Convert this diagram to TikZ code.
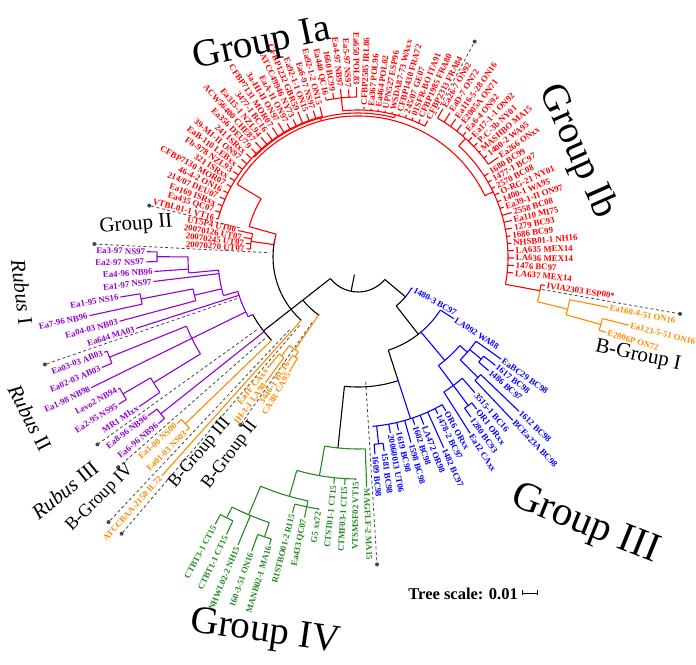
\documentclass[tikz,border=0pt]{standalone}
\usepackage{fontspec}
\setmainfont{Liberation Serif}
\definecolor{cR}{RGB}{255,0,0}
\definecolor{cB}{RGB}{0,0,255}
\definecolor{cP}{RGB}{148,0,211}
\definecolor{cO}{RGB}{255,140,0}
\definecolor{cG}{RGB}{34,139,34}
\definecolor{cD}{RGB}{70,70,70}
\newcommand\RK[4]{\pgfmathsetmacro\tK{-16.9+2.753*(#1)}\draw[br,#4] (\tK:#2pt) -- (\tK:#3pt);}
\newcommand\RD[4]{\draw[br,#4] (#1:#2pt) -- (#1:#3pt);}
\newcommand\AK[4]{\pgfmathsetmacro\tKa{-16.9+2.753*(#1)}\pgfmathsetmacro\tKb{-16.9+2.753*(#2)}\draw[br,#4] (\tKa:#3pt) arc[start angle=\tKa,end angle=\tKb,radius=#3pt];}
\newcommand\AD[4]{\draw[br,#4] (#1:#3pt) arc[start angle=#1,end angle=#2,radius=#3pt];}
\newcommand\LF[5]{%
  \pgfmathsetmacro\tK{-16.9+2.753*(#1)}%
  \draw[br,#4] (\tK:#2pt) -- (\tK:#3pt);%
  \pgfmathsetmacro\rL{#3+1}%
  \ifdim\tK pt>270pt \pgfmathsetmacro\tK{\tK-360}\fi
  \ifdim\tK pt>90pt
    \pgfmathsetmacro\tR{\tK-180}%
    \node[lab,text=#4,anchor=east,rotate=\tR] (L#1) at (\tK:\rL pt) {#5};%
  \else
    \node[lab,text=#4,anchor=west,rotate=\tK] (L#1) at (\tK:\rL pt) {#5};%
  \fi}
\newcommand\SP[3]{\pgfmathsetmacro\tK{-16.9+2.753*(#1)}\draw[sepline] (\tK:#2pt) -- (\tK:#3pt);\fill[cD] (\tK:#3pt) circle[radius=2pt];}
\begin{document}
\begin{tikzpicture}[x=1pt,y=1pt,
  br/.style={line width=1.1pt},
  lab/.style={font=\fontsize{8.8}{9}\selectfont\bfseries, inner sep=0.8pt},
  sepline/.style={draw=cD, line width=0.8pt, dash pattern=on 3pt off 2.5pt},
  grp/.style={font=\fontsize{39}{40}\selectfont, inner sep=0pt},
  grpm/.style={font=\fontsize{21}{22}\selectfont, inner sep=0pt},
  grps/.style={font=\fontsize{18}{19}\selectfont, inner sep=0pt}]
\useasboundingbox (0,0) rectangle (696,664);
\fill[white] (0,0) rectangle (696,664);
\begin{scope}[shift={(358,407)}]
% separators
\SP{2.5}{187}{327}
\SP{28.5}{162}{245}
\SP{66.5}{122}{215}
\SP{70.5}{91}{264}
\SP{78.4}{128}{331}
\SP{84.5}{125}{321}
\SP{86.5}{124}{319}
\SP{88.5}{100}{364}
\SP{89.5}{90}{364}
\SP{91.5}{80}{205}
\SP{105.5}{125}{308}
% backbone
\RD{258.6}{18}{35}{black}
\AD{218}{320}{35}{black}
\RD{218}{35}{120}{black}
\AD{218}{236.4}{70}{black}
\AD{168}{228.12}{85}{black}
\AD{208.6}{224}{120}{black}
% orange B-Group II / III
\RD{235.8}{70}{112}{cO}
\AK{90.5}{92.5}{112}{cO}
\RK{90.5}{112}{125}{cO}
\AK{90}{91}{125}{cO}
\LF{90}{125}{143}{cO}{EaJF CAxx}
\LF{91}{125}{156}{cO}{IH-3-1 LA98}
\RK{92.5}{112}{118}{cO}
\AK{92}{93}{118}{cO}
\LF{92}{118}{125}{cO}{3446-1 BC16}
\LF{93}{118}{134}{cO}{CA3R CA95}
\LF{89}{85}{294}{cO}{ATCCBAA-2158 IL72}
% B-Group IV
\RK{87.5}{120}{240}{cO}
\AK{87}{88}{240}{cO}
\LF{87}{240}{246}{cO}{Ea1-00 NS00}
\LF{88}{240}{244}{cO}{Ea01-03 NS03}
% Rubus III
\RK{85.5}{120}{252}{cP}
\AK{85}{86}{252}{cP}
\LF{85}{252}{263}{cP}{Ea8-96 NB96}
\LF{86}{252}{260}{cP}{Ea6-96 NB96}
% Rubus I / II
\RD{208.6}{120}{125}{cP}
\AD{196}{208.6}{125}{cP}
\RD{196}{125}{140}{cP}
\AD{185.4}{196}{140}{cP}
\RD{185.4}{140}{170}{cP}
\AD{179.9}{185.4}{170}{cP}
\RK{71.5}{170}{201}{cP}
\AK{71}{72}{201}{cP}
\LF{71}{201}{211}{cP}{Ea3-97 NS97}
\LF{72}{201}{212}{cP}{Ea2-97 NS97}
\LF{73}{170}{204}{cP}{Ea4-96 NB96}
\LF{74}{140}{206}{cP}{Ea1-97 NS97}
\RK{76.3}{140}{168}{cP}
\AK{75.5}{77}{168}{cP}
\RK{75.5}{168}{221}{cP}
\AK{75}{76}{221}{cP}
\LF{75}{221}{241}{cP}{Ea1-95 NS16}
\LF{76}{221}{275}{cP}{Ea7-96 NB96}
\LF{77}{168}{247}{cP}{Ea04-03 NB03}
\LF{78}{125}{233}{cP}{Ea644 MA03}
\RK{81}{125}{185}{cP}
\AK{79.5}{83}{185}{cP}
\RK{79.5}{185}{268}{cP}
\AK{79}{80}{268}{cP}
\LF{79}{268}{271}{cP}{Ea03-03 AB03}
\LF{80}{268}{279}{cP}{Ea02-03 AB03}
\LF{81}{185}{297}{cP}{Ea1-98 NB98}
\RK{83}{185}{240}{cP}
\AK{82.5}{84}{240}{cP}
\RK{82.5}{240}{272}{cP}
\AK{82}{83}{272}{cP}
\LF{82}{272}{274}{cP}{Levo2 NB94}
\LF{83}{272}{281}{cP}{Ea2-95 NS95}
\LF{84}{240}{265}{cP}{MR1 MIxx}
% red clade
\AD{164.4}{171.68}{85}{cR}
\RK{68.5}{85}{108}{cR}
\AK{67}{70}{108}{cR}
\LF{67}{108}{123}{cR}{UT5P4 UT00}
\LF{68}{108}{116}{cR}{20070126 UT07}
\LF{69}{108}{113}{cR}{20070245 UT07}
\LF{70}{108}{112}{cR}{20070270 UT07}
\RD{164.4}{85}{113}{cR}
\AD{149}{164.4}{113}{cR}
\RD{149}{113}{141}{cR}
\AD{25.77}{149}{141}{cR}
\RK{44.3}{141}{144}{cR}
\AK{33.5}{55.5}{144}{cR}
\RK{33.5}{144}{147}{cR}
\AK{29}{41}{147}{cR}
\RK{41}{147}{160}{cR}
\AK{39}{43}{160}{cR}
\RK{55.5}{144}{145}{cR}
\AK{44}{66}{145}{cR}
\LF{29}{147}{153}{cR}{CFBP2313 FRA84}
\LF{30}{147}{151}{cR}{CFBP1985 FRA80}
\LF{31}{147}{150}{cR}{01SFR-BO ITA91}
\LF{32}{147}{150}{cR}{245/07 GE07}
\LF{33}{147}{149}{cR}{CFBP1430 FRA72}
\LF{34}{147}{149}{cR}{WSDA87-73 WAxx}
\LF{35}{147}{149}{cR}{UPN527 ESP96}
\LF{36}{147}{149}{cR}{Ea464 POL02}
\LF{37}{147}{149}{cR}{Ea367 POL96}
\LF{38}{147}{150}{cR}{CFBP2585 IRL86}
\LF{39}{160}{170}{cR}{Ea650 POL83}
\LF{40}{160}{168}{cR}{Ea5-97 NS97}
\LF{41}{160}{169}{cR}{Ea4-97 NB97}
\LF{42}{160}{166}{cR}{1660 BC99}
\LF{43}{160}{163}{cR}{Ea440 QC16}
\LF{44}{145}{155}{cR}{Ea92-1-2 ON15}
\LF{45}{145}{153}{cR}{Ea6-97 NS97}
\LF{46}{145}{152}{cR}{Ea92-1-1 ON15}
\LF{47}{145}{157}{cR}{CFBP1232 GBR59}
\LF{48}{145}{152}{cR}{ATCC49946 NY73}
\LF{49}{145}{151}{cR}{EaA-11 ON97}
\LF{50}{145}{156}{cR}{3a-HI-II ON97}
\LF{51}{145}{155}{cR}{CFBP7131 MOR07}
\LF{52}{145}{154}{cR}{3477-1 BC16}
\LF{53}{145}{154}{cR}{Ea315-1 NZL94}
\LF{54}{145}{154}{cR}{ACW56400 CHE87}
\LF{55}{145}{152}{cR}{Ea356 DEU79}
\LF{56}{145}{152}{cR}{241 ISRxx}
\LF{57}{145}{152}{cR}{39-M1-II ON97}
\LF{58}{145}{151}{cR}{EaB-110 LEBxx}
\LF{59}{145}{151}{cR}{Fb-978 NZL93}
\LF{60}{145}{151}{cR}{321 ISRxx}
\LF{61}{145}{150}{cR}{CFBP7130 MOR07}
\LF{62}{145}{150}{cR}{46-4-2 ON16}
\LF{63}{145}{151}{cR}{214/07 DEU07}
\LF{64}{145}{150}{cR}{Ea169 ISRxx}
\LF{65}{145}{150}{cR}{Ea435 QC07}
\LF{66}{145}{147}{cR}{VTBL01-1 VT16}
% Group Ib
\RK{15.5}{141}{150}{cR}
\AD{-10.5}{47.8}{150}{cR}
\RK{23.5}{150}{160}{cR}
\AK{19}{28}{160}{cR}
\LF{4}{150}{156}{cR}{LA637 MEX14}
\LF{5}{150}{156}{cR}{1476 BC97}
\LF{6}{150}{156}{cR}{LA636 MEX14}
\LF{7}{150}{156}{cR}{LA635 MEX14}
\LF{8}{150}{154}{cR}{NHSB01-1 NH16}
\LF{9}{150}{154}{cR}{1686 BC99}
\LF{10}{150}{157}{cR}{1279 BC93}
\LF{11}{150}{158}{cR}{Ea110 MI75}
\LF{12}{150}{160}{cR}{2558 BC08}
\LF{13}{150}{154}{cR}{Ea39-1-II ON97}
\LF{14}{150}{154}{cR}{1400-1 WA95}
\LF{15}{150}{155}{cR}{O-RG-21 NY01}
\LF{16}{150}{154}{cR}{2570 BC08}
\LF{17}{150}{154}{cR}{1477-1 BC97}
\LF{18}{150}{155}{cR}{1680 BC99}
\LF{19}{160}{172}{cR}{Ea266 ONxx}
\LF{20}{160}{164}{cR}{1400-2 WA95}
\LF{21}{160}{162}{cR}{MASHBO MA15}
\LF{22}{160}{165}{cR}{P-C-3b NY01}
\LF{23}{160}{165}{cR}{Ea17-1-1 ON92}
\LF{24}{160}{165}{cR}{Ea6-4 ON92}
\LF{25}{160}{168}{cR}{E2005A ON71}
\LF{26}{160}{169}{cR}{Ea116-5-28 ON16}
\LF{27}{160}{171}{cR}{EaD-7 ON72}
\LF{28}{160}{171}{cR}{Ea26-7 ON92}
% IVIA + B-Group I
\RD{-10.5}{150}{185}{cR}
\AD{-10.5}{-8.64}{185}{cR}
\AD{-14}{-10.5}{185}{cO}
\LF{3}{185}{189}{cR}{IVIA2303 ESP00*}
\RD{-14}{185}{216}{cO}
\AK{0.5}{2}{216}{cO}
\LF{2}{216}{255}{cO}{Ea160-4-51 ON16}
\RK{0.5}{216}{252}{cO}
\AK{0}{1}{252}{cO}
\LF{0}{252}{259}{cO}{E2006P ON72}
\LF{1}{252}{279}{cO}{Ea123-5-51 ON16}
% right backbone and Group III
\RD{320}{35}{62}{black}
\AD{308}{320}{62}{black}
\AD{320}{329.98}{62}{cB}
\LF{126}{62}{63}{cB}{1480-3 BC97}
\RD{308}{62}{98}{black}
\AD{288}{310}{98}{black}
\AD{310}{327.23}{98}{cB}
\LF{125}{98}{114}{cB}{LA092 WA88}
\RD{310}{98}{135}{cB}
\AD{306.58}{318.97}{135}{cB}
\RK{117.5}{135}{160}{cB}
\AK{116}{119}{160}{cB}
\LF{116}{160}{209}{cB}{Ea12 CAxx}
\RK{117.5}{160}{185}{cB}
\AK{117}{118}{185}{cB}
\LF{117}{185}{196}{cB}{1280 BC93}
\LF{118}{185}{193}{cB}{OR1 ORxx}
\LF{119}{160}{179}{cB}{3515-1 BC16}
\RK{122}{135}{145}{cB}
\AK{120.5}{124}{145}{cB}
\RK{120.5}{145}{170}{cB}
\AK{120}{121}{170}{cB}
\LF{120}{170}{225}{cB}{BCEa23A BC98}
\LF{121}{170}{223}{cB}{1612 BC98}
\RK{122.5}{145}{160}{cB}
\AK{122}{123}{160}{cB}
\LF{122}{160}{173}{cB}{1486 BC97}
\LF{123}{160}{175}{cB}{1617 BC98}
\LF{124}{145}{176}{cB}{EaBC29 BC98}
\RD{288}{98}{130}{black}
\AD{264}{288}{130}{black}
\RD{288}{130}{170}{cB}
\AK{106}{115}{170}{cB}
\RK{106.5}{170}{188}{cB}
\AK{106}{107}{188}{cB}
\LF{106}{188}{198}{cB}{1609 BC98}
\LF{107}{188}{196}{cB}{1581 BC98}
\LF{108}{170}{179}{cB}{20060013 UT06}
\LF{109}{170}{178}{cB}{1619 BC98}
\LF{110}{170}{193}{cB}{1598 BC98}
\LF{111}{170}{177}{cB}{1602 BC98}
\LF{112}{170}{180}{cB}{LA472 OR98}
\LF{113}{170}{209}{cB}{1482 BC97}
\LF{114}{170}{176}{cB}{1478-2 BC97}
\LF{115}{170}{177}{cB}{OR6 ORxx}
% Group IV
\RD{264}{130}{192}{black}
\AD{260}{272.17}{192}{cG}
\LF{105}{192}{230}{cG}{MAGFLF-2 MA15}
\RD{260}{192}{222}{cG}
\AD{254}{269.42}{222}{cG}
\LF{102}{222}{228}{cG}{CTST01-1 CT15}
\LF{103}{222}{228}{cG}{CTMF03-1 CT15}
\LF{104}{222}{223}{cG}{VTSMSF02 VT15}
\RD{254}{222}{249}{cG}
\AD{247}{258.4}{249}{cG}
\RK{100}{249}{255}{cG}
\AK{99}{101}{255}{cG}
\LF{99}{255}{264}{cG}{RISTBO01-2 RI15}
\LF{100}{255}{266}{cG}{Ea433 QC07}
\LF{101}{255}{256}{cG}{G5 xx72}
\RD{247}{249}{280}{cG}
\AK{94.5}{97.5}{280}{cG}
\RK{94.5}{280}{292}{cG}
\AK{94}{95}{292}{cG}
\LF{94}{292}{303}{cG}{CTBT3-1 CT15}
\LF{95}{292}{307}{cG}{CTBT1-1 CT15}
\LF{96}{280}{312}{cG}{NHWL02-2 NH15}
\RK{97.5}{280}{295}{cG}
\AK{97}{98}{295}{cG}
\LF{97}{295}{313}{cG}{160-3-51 ON16}
\LF{98}{295}{301}{cG}{MANB02-1 MA16}
\end{scope}
% group labels
\node[grp, rotate=12] (gIa) at (262,619) {Group Ia};
\node[grp, rotate=-66] (gIb) at (577,512) {Group Ib};
\node[grpm, rotate=5] (gII) at (136,439) {Group II};
\node[grpm, rotate=-83] (rI) at (22,372) {\textit{Rubus} I};
\node[grpm, rotate=-63] (rII) at (30,246) {\textit{Rubus} II};
\node[grpm, rotate=39] (rIII) at (65,174) {\textit{Rubus} III};
\node[grps, rotate=45] (bIV) at (100,166) {B-Group IV};
\node[grps, rotate=50] (bIII) at (200,211) {B-Group III};
\node[grps, rotate=53] (bII) at (230,209) {B-Group II};
\node[grpm, rotate=-12] (bI) at (638,308) {B-Group I};
\node[grp, font=\fontsize{41}{42}\selectfont, rotate=-22] (gIII) at (585,139) {Group III};
\node[grp, rotate=-8] (gIV) at (265,31) {Group IV};
\node[font=\bfseries\fontsize{16.5}{17}\selectfont, anchor=east, inner sep=0pt] (ts) at (518,70) {Tree scale: 0.01};
\coordinate (sb1) at (522,71);
\coordinate (sb2) at (537,71);
\draw[line width=0.9pt] (sb1) -- (sb2);
\draw[line width=0.9pt] ([yshift=-2.5pt]sb1) -- ([yshift=2.5pt]sb1);
\draw[line width=0.9pt] ([yshift=-2.5pt]sb2) -- ([yshift=2.5pt]sb2);
\end{tikzpicture}
\end{document}
